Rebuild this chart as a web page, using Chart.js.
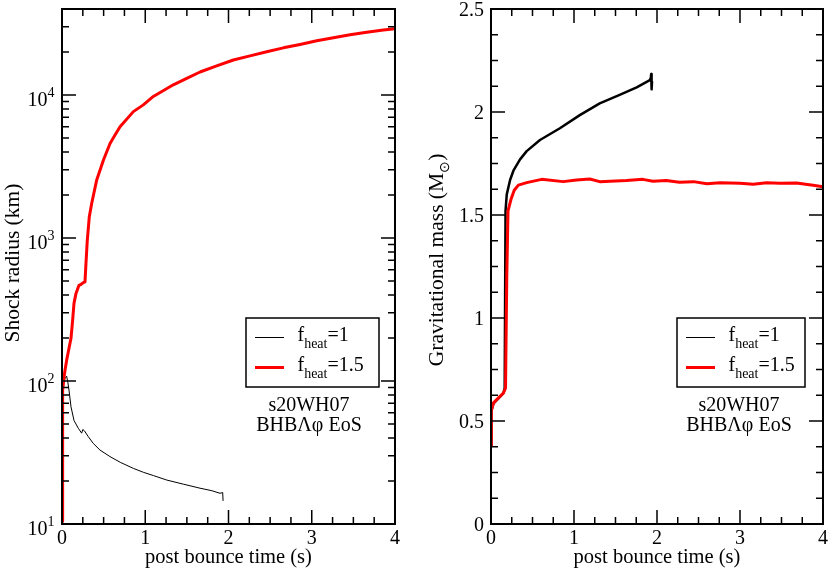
<!DOCTYPE html>
<html>
<head>
<meta charset="utf-8">
<script src="https://cdn.jsdelivr.net/npm/chart.js@4.4.1/dist/chart.umd.min.js"></script>
<style>
  body { margin: 0; background: #fff; }
  .wrap { display: flex; width: 830px; height: 574px; }
  canvas { display: block; }
</style>
</head>
<body>
<div class="wrap">
  <canvas id="radiusChart" width="415" height="574"></canvas>
  <canvas id="massChart" width="415" height="574"></canvas>
</div>
<script>
// --- shock radius (km), left panel ---
const radiusTimeA = [0, 0.01, 0.02, 0.035, 0.056, 0.07, 0.084, 0.108, 0.144, 0.196, 0.236, 0.25, 0.27, 0.316, 0.376, 0.456, 0.577, 0.7, 0.857, 0.977, 1.1, 1.258, 1.457, 1.658, 1.8, 1.898, 1.93, 1.935];
const radiusA     = [10, 60, 95, 104, 108, 98, 86.5, 66, 53, 46.7, 43.2, 45.8, 44.8, 40.8, 36.6, 32.9, 29.6, 27, 24.5, 23, 21.8, 20.3, 19, 17.8, 17.1, 16.4, 16.6, 14.5];
const radiusTimeB = [0, 0.005, 0.01, 0.02, 0.035, 0.056, 0.08, 0.108, 0.128, 0.144, 0.168, 0.204, 0.23, 0.256, 0.276, 0.288, 0.304, 0.328, 0.357, 0.417, 0.497, 0.577, 0.637, 0.697, 0.857, 0.977, 1.097, 1.337, 1.498, 1.658, 1.858, 2.058, 2.258, 2.459, 2.659, 2.859, 3.06, 3.26, 3.46, 3.66, 3.86, 4.0];
const radiusB     = [10.5, 40, 86, 101, 118, 140, 165, 199, 267, 349, 410, 467, 475, 488, 494, 665, 969, 1410, 1750, 2550, 3500, 4590, 5250, 6000, 7660, 8540, 9780, 11800, 13100, 14500, 16000, 17600, 18800, 20100, 21400, 22600, 24000, 25200, 26400, 27500, 28500, 29100];

// --- gravitational mass (M_sun), right panel ---
const massTimeA = [0, 0.005, 0.03, 0.09, 0.15, 0.165, 0.175, 0.19, 0.23, 0.27, 0.35, 0.43, 0.59, 0.83, 1.07, 1.31, 1.55, 1.755, 1.914, 1.925, 1.93, 1.935, 1.94];
const massA     = [0.38, 0.55, 0.585, 0.61, 0.635, 0.66, 1.52, 1.6, 1.67, 1.715, 1.77, 1.81, 1.864, 1.921, 1.985, 2.042, 2.083, 2.12, 2.155, 2.165, 2.185, 2.11, 2.15];
const massTimeB = [0, 0.004, 0.03, 0.09, 0.15, 0.175, 0.19, 0.205, 0.24, 0.28, 0.33, 0.43, 0.61, 0.87, 1.03, 1.19, 1.31, 1.63, 1.83, 1.95, 2.11, 2.27, 2.44, 2.6, 2.76, 3.0, 3.16, 3.32, 3.48, 3.68, 3.88, 4.0];
const massB     = [0.38, 0.55, 0.588, 0.612, 0.636, 0.66, 1.2, 1.52, 1.575, 1.62, 1.645, 1.657, 1.673, 1.662, 1.670, 1.675, 1.662, 1.667, 1.673, 1.664, 1.668, 1.659, 1.662, 1.652, 1.657, 1.654, 1.649, 1.657, 1.654, 1.655, 1.644, 1.637];

// --- tick labels ---
const timeTicks = [0, 1, 2, 3, 4];
const radiusTicks = [10, 100, 1000, 10000];
const massTicks = [0, 0.5, 1, 1.5, 2, 2.5];

const SERIF = "'Liberation Serif', 'Times New Roman', serif";
const RED = '#ff0000';

function pairs(xs, ys) {
  return xs.map((x, i) => ({ x: x, y: ys[i] }));
}

function drawRich(ctx, parts, x, y, align) {
  let w = 0;
  parts.forEach(p => { ctx.font = p.size + 'px ' + SERIF; w += ctx.measureText(p.t).width; });
  let cx = align === 'center' ? x - w / 2 : align === 'right' ? x - w : x;
  ctx.textAlign = 'left';
  ctx.textBaseline = 'alphabetic';
  parts.forEach(p => {
    ctx.font = p.size + 'px ' + SERIF;
    ctx.fillText(p.t, cx, y + (p.dy || 0));
    cx += ctx.measureText(p.t).width;
  });
}

function fheat(val) {
  return [{ t: 'f', size: 20 }, { t: 'heat', size: 14, dy: 7 }, { t: '=' + val, size: 20 }];
}

// frame, inner ticks, custom labels, legend box and note
const panelPlugin = {
  id: 'panel',
  afterDraw(chart, args, opts) {
    const { ctx, chartArea: a, scales: { x, y } } = chart;
    ctx.save();
    ctx.strokeStyle = '#000';
    ctx.fillStyle = '#000';

    ctx.lineWidth = 1.5;
    ctx.beginPath();
    const xt = (v, len) => {
      const px = x.getPixelForValue(v);
      ctx.moveTo(px, a.bottom); ctx.lineTo(px, a.bottom - len);
      ctx.moveTo(px, a.top); ctx.lineTo(px, a.top + len);
    };
    const yt = (v, len) => {
      const py = y.getPixelForValue(v);
      ctx.moveTo(a.left, py); ctx.lineTo(a.left + len, py);
      ctx.moveTo(a.right, py); ctx.lineTo(a.right - len, py);
    };
    opts.xMinor.forEach(v => xt(v, 7));
    opts.xMajor.forEach(v => xt(v, 14));
    opts.yMinor.forEach(v => yt(v, 7));
    opts.yMajor.forEach(v => yt(v, 14));
    ctx.stroke();

    ctx.lineWidth = 2;
    ctx.strokeRect(a.left, a.top, a.width, a.height);

    if (opts.logLabels) {
      opts.yMajor.forEach(v => {
        const py = y.getPixelForValue(v);
        const e = String(Math.round(Math.log10(v)));
        drawRich(ctx, [{ t: '10', size: 20 }, { t: e, size: 14, dy: -9.5 }], a.left - 7.5, py + 11, 'right');
      });
    }

    // rotated y title
    ctx.save();
    ctx.translate(opts.yTitle.x, opts.yTitle.y);
    ctx.rotate(-Math.PI / 2);
    drawRich(ctx, opts.yTitle.parts, 0, 0, 'center');
    ctx.restore();

    // legend
    const [bx, by, bw, bh] = opts.legendBox;
    ctx.lineWidth = 1.5;
    ctx.strokeRect(bx, by, bw, bh);
    const items = [
      { color: '#000', width: 1, parts: fheat('1') },
      { color: RED, width: 3, parts: fheat('1.5') }
    ];
    items.forEach((it, i) => {
      const ly = by + 19.5 + i * 30;
      ctx.strokeStyle = it.color;
      ctx.lineWidth = it.width;
      ctx.beginPath();
      ctx.moveTo(bx + 9, ly); ctx.lineTo(bx + 38, ly);
      ctx.stroke();
      drawRich(ctx, it.parts, bx + 51.5, ly + 3, 'left');
    });

    // note
    opts.note.lines.forEach((t, i) => {
      drawRich(ctx, [{ t: t, size: 20 }], opts.note.cx, opts.note.y + i * 20, 'center');
    });
    ctx.restore();
  }
};

function minorTicks(lo, hi, step) {
  const out = [];
  const n = Math.round((hi - lo) / step);
  for (let i = 0; i <= n; i++) out.push(lo + i * step);
  return out;
}

function logMinor() {
  const out = [];
  radiusTicks.forEach(d => {
    for (let m = 2; m <= 9; m++) if (m * d <= 40000) out.push(m * d);
  });
  return out;
}

function timeAxis() {
  return {
    type: 'linear', min: 0, max: 4,
    grid: { display: false, drawTicks: false },
    border: { display: false },
    afterBuildTicks: s => { s.ticks = timeTicks.map(v => ({ value: v })); },
    ticks: { padding: 3, maxRotation: 0, autoSkip: false, color: '#000', font: { family: SERIF, size: 20 }, callback: v => String(v) },
    title: { display: true, text: 'post bounce time (s)', color: '#000', font: { family: SERIF, size: 20.5 }, padding: { top: 0, bottom: 4 } },
    afterFit: s => { s.height = 50; s.paddingLeft = 0; s.paddingRight = 0; }
  };
}

const common = {
  responsive: false,
  animation: false,
  elements: { point: { radius: 0 }, line: { tension: 0, borderJoinStyle: 'round', fill: false } }
};

new Chart(document.getElementById('radiusChart'), {
  type: 'line',
  data: {
    datasets: [
      { label: 'f_heat=1', data: pairs(radiusTimeA, radiusA), borderColor: '#000', borderWidth: 1, order: 1 },
      { label: 'f_heat=1.5', data: pairs(radiusTimeB, radiusB), borderColor: RED, borderWidth: 3, order: 0 }
    ]
  },
  options: Object.assign({}, common, {
    layout: { padding: { top: 9, right: 20, bottom: 0, left: 0 } },
    plugins: {
      legend: { display: false },
      tooltip: { enabled: false },
      panel: {
        xMajor: timeTicks, xMinor: minorTicks(0, 4, 0.25),
        yMajor: radiusTicks, yMinor: logMinor(),
        logLabels: true,
        yTitle: { x: 18.5, y: 263, parts: [{ t: 'Shock radius (km)', size: 21.5 }] },
        legendBox: [246, 318, 133, 69],
        note: { cx: 309, y: 411, lines: ['s20WH07', 'BHBΛφ EoS'] }
      }
    },
    scales: {
      x: timeAxis(),
      y: {
        type: 'logarithmic', min: 10, max: 40000,
        grid: { display: false, drawTicks: false },
        border: { display: false },
        ticks: { display: false },
        afterFit: s => { s.width = 62; s.paddingTop = 0; s.paddingBottom = 0; }
      }
    }
  }),
  plugins: [panelPlugin]
});

new Chart(document.getElementById('massChart'), {
  type: 'line',
  data: {
    datasets: [
      { label: 'f_heat=1', data: pairs(massTimeA, massA), borderColor: '#000', borderWidth: 2.5, order: 1 },
      { label: 'f_heat=1.5', data: pairs(massTimeB, massB), borderColor: RED, borderWidth: 3, order: 0 }
    ]
  },
  options: Object.assign({}, common, {
    layout: { padding: { top: 9, right: 7, bottom: 0, left: 0 } },
    plugins: {
      legend: { display: false },
      tooltip: { enabled: false },
      panel: {
        xMajor: timeTicks, xMinor: minorTicks(0, 4, 0.25),
        yMajor: massTicks, yMinor: minorTicks(0, 2.5, 0.125),
        logLabels: false,
        yTitle: { x: 27.5, y: 260, parts: [
          { t: 'Gravitational mass (M', size: 21.5 },
          { t: '⊙', size: 14, dy: 6 },
          { t: ')', size: 21.5 }
        ] },
        legendBox: [262, 318, 128, 69],
        note: { cx: 324, y: 411, lines: ['s20WH07', 'BHBΛφ EoS'] }
      }
    },
    scales: {
      x: timeAxis(),
      y: {
        type: 'linear', min: 0, max: 2.5,
        grid: { display: false, drawTicks: false },
        border: { display: false },
        afterBuildTicks: s => { s.ticks = massTicks.map(v => ({ value: v })); },
        ticks: { padding: 7, labelOffset: 2, autoSkip: false, color: '#000', font: { family: SERIF, size: 20 }, callback: v => String(v) },
        afterFit: s => { s.width = 76; s.paddingTop = 0; s.paddingBottom = 0; }
      }
    }
  }),
  plugins: [panelPlugin]
});
</script>
</body>
</html>
